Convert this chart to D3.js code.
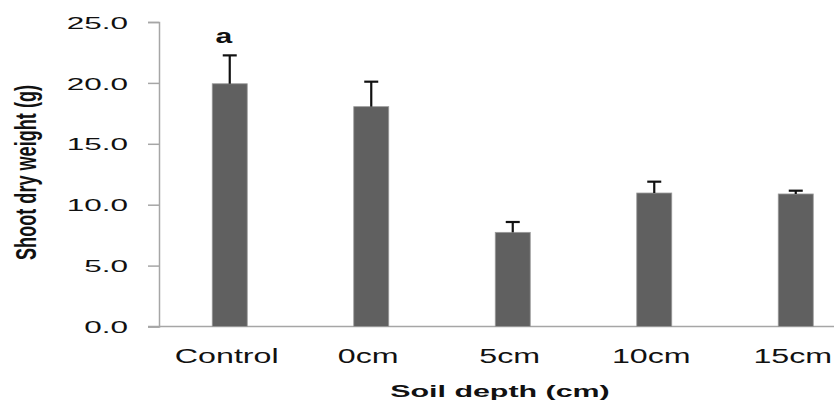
<!DOCTYPE html>
<html>
<head>
<meta charset="utf-8">
<script src="https://cdn.jsdelivr.net/npm/d3@7/dist/d3.min.js"></script>
<style>
  html, body { margin: 0; padding: 0; background: #fff; }
  svg { display: block; }
  text { font-family: "Liberation Sans", Arial, sans-serif; fill: #111; }
</style>
</head>
<body>
<svg id="chart" width="834" height="406"></svg>
<script>
// Shoot dry weight by soil depth
const categories = ["Control", "0cm", "5cm", "10cm", "15cm"];
const means = [19.93, 18.05, 7.73, 10.96, 10.88];
const errors = [2.33, 2.05, 0.85, 0.93, 0.27];
const yTicks = [0, 5, 10, 15, 20, 25];
const letters = ["a", "", "", "", ""];

const W = 834, H = 406;
const plot = { left: 159, top: 22, bottom: 326.5, right: 866.5 };

const svg = d3.select("#chart");

const x = d3.scaleBand()
  .domain(categories)
  .range([plot.left, plot.right])
  .paddingInner(0.7527)
  .paddingOuter(0.3763);

const y = d3.scaleLinear().domain([0, 25]).range([plot.bottom, plot.top]);

// stretch a text element horizontally to k times its natural width
function widen(sel, k) {
  sel.each(function () {
    const len = this.getComputedTextLength();
    d3.select(this).attr("textLength", len * k).attr("lengthAdjust", "spacingAndGlyphs");
  });
}

// y axis
const yAxis = svg.append("g")
  .attr("transform", `translate(${plot.left},0)`)
  .call(d3.axisLeft(y).tickValues(yTicks).tickFormat(d3.format(".1f")).tickSize(11).tickPadding(20));
yAxis.select(".domain").attr("stroke", "#a6a6a6").attr("stroke-width", 1.5);
yAxis.selectAll(".tick line").attr("stroke", "#a6a6a6").attr("stroke-width", 1.5);
yAxis.selectAll(".tick text")
  .attr("font-size", 17).attr("font-family", "Liberation Sans, Arial, sans-serif")
  .attr("fill", "#111").attr("dy", "0.36em")
  .call(widen, 1.85);

// x axis baseline
svg.append("line")
  .attr("x1", plot.left - 11).attr("x2", W)
  .attr("y1", y(0)).attr("y2", y(0))
  .attr("stroke", "#a6a6a6").attr("stroke-width", 1.5);

// bars
const rows = categories.map((c, i) => ({ c, m: means[i], e: errors[i], l: letters[i] }));

svg.append("g").selectAll("rect").data(rows).join("rect")
  .attr("x", d => x(d.c))
  .attr("width", x.bandwidth())
  .attr("y", d => y(d.m))
  .attr("height", d => y(0) - y(d.m))
  .attr("fill", "#606060")
  .attr("stroke", "#9a9a9a")
  .attr("stroke-width", 0.8);

// upper error bars
const eb = svg.append("g").attr("stroke", "#111").attr("stroke-width", 2.2);
rows.forEach(d => {
  const cx = x(d.c) + x.bandwidth() / 2;
  eb.append("line").attr("x1", cx).attr("x2", cx).attr("y1", y(d.m)).attr("y2", y(d.m + d.e));
  eb.append("line").attr("x1", cx - 7).attr("x2", cx + 7).attr("y1", y(d.m + d.e)).attr("y2", y(d.m + d.e));
});

// significance letters
svg.append("g").selectAll("text").data(rows.filter(d => d.l)).join("text")
  .attr("x", d => x(d.c) + x.bandwidth() / 2 - 6)
  .attr("y", d => y(d.m + d.e) - 12)
  .attr("text-anchor", "middle")
  .attr("font-size", 20).attr("font-weight", "bold")
  .text(d => d.l)
  .call(widen, 1.5);

// category labels
svg.append("g").selectAll("text").data(categories).join("text")
  .attr("x", d => x(d) + x.bandwidth() / 2 - 3)
  .attr("y", 363)
  .attr("text-anchor", "middle")
  .attr("font-size", 19.5)
  .text(d => d)
  .call(widen, 1.65);

// axis titles
svg.append("text")
  .attr("x", 500).attr("y", 397)
  .attr("text-anchor", "middle")
  .attr("font-size", 16).attr("font-weight", "bold")
  .text("Soil depth (cm)")
  .call(widen, 1.9);

// vertical title: thickened across its baseline
svg.append("text")
  .attr("transform", "translate(36,172.5) rotate(-90) scale(1,1.75)")
  .attr("text-anchor", "middle")
  .attr("font-size", 17)
  .attr("font-weight", "bold")
  .attr("textLength", 175).attr("lengthAdjust", "spacingAndGlyphs")
  .text("Shoot dry weight (g)");
</script>
</body>
</html>
